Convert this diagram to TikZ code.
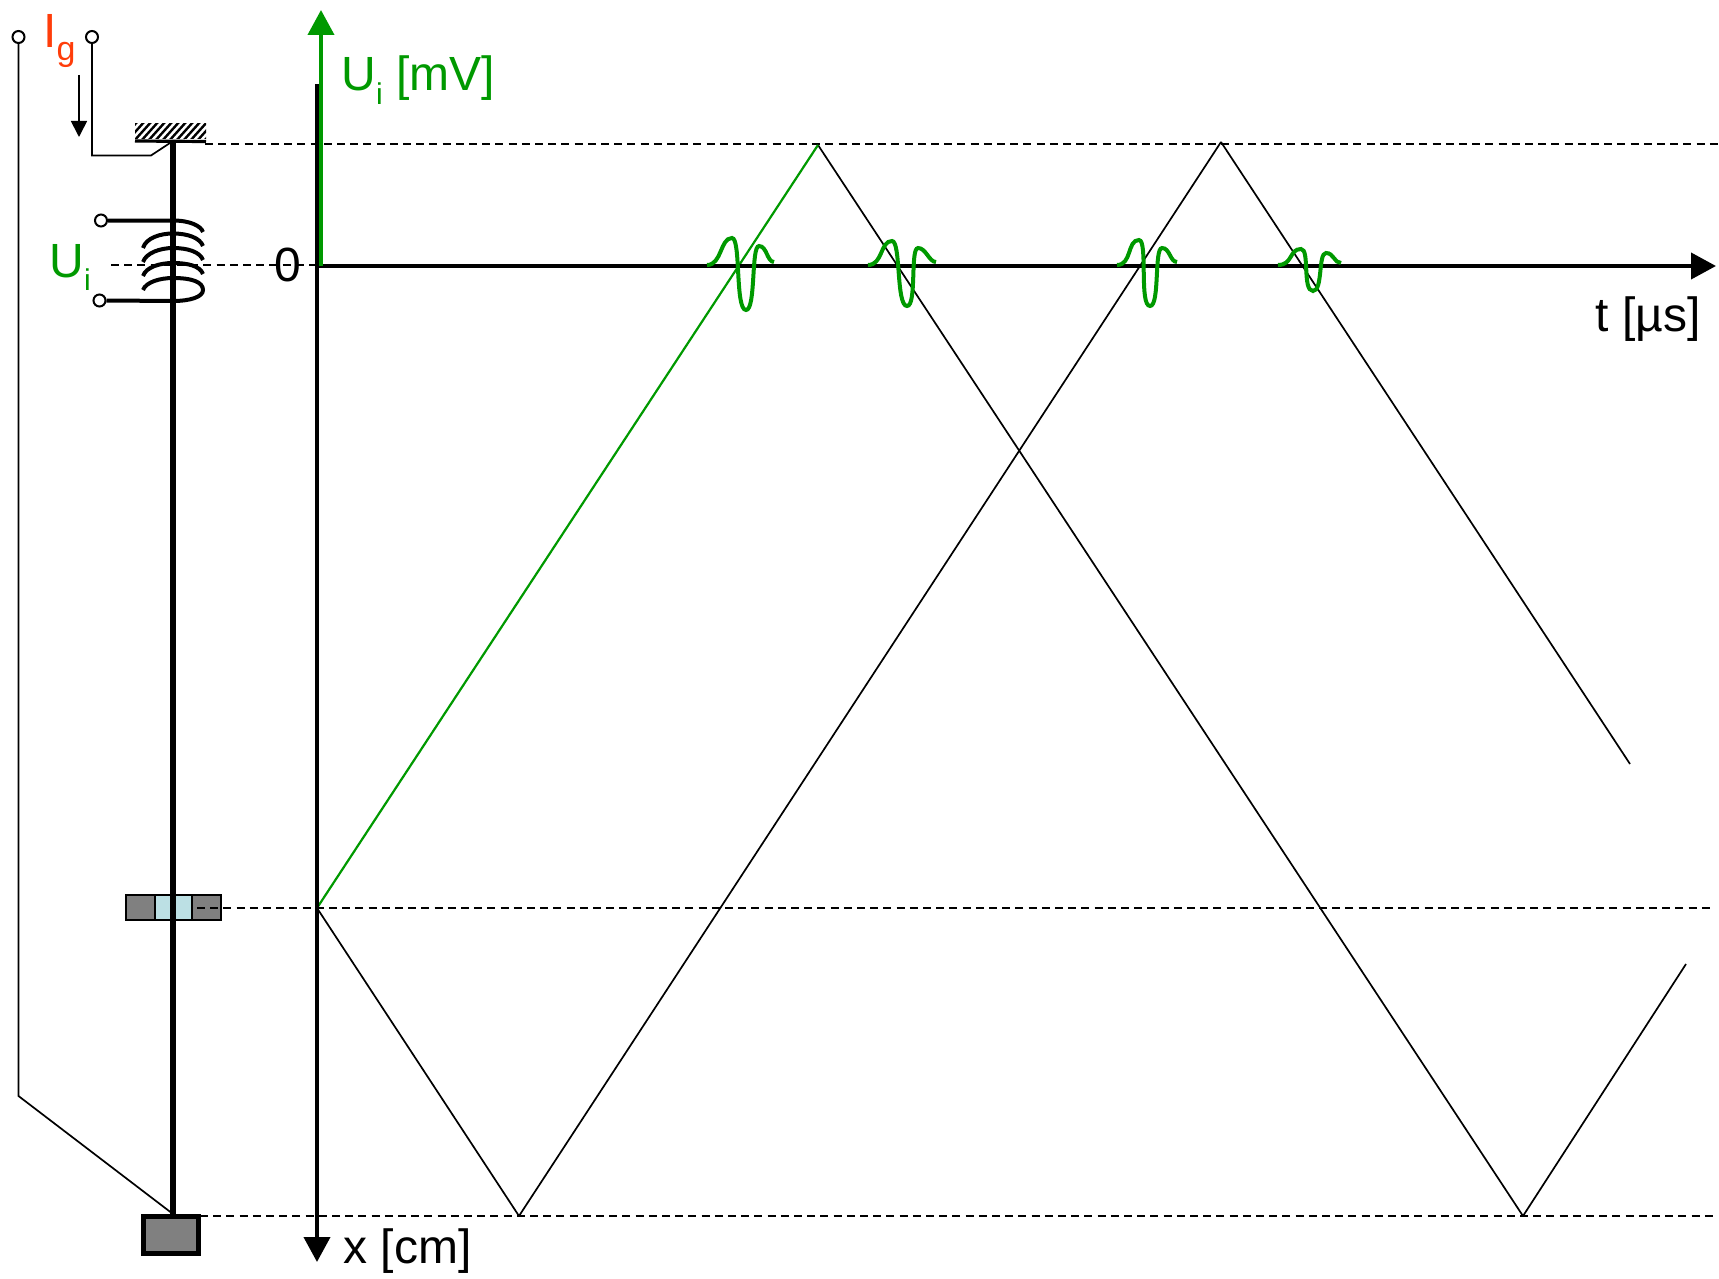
\documentclass[tikz,border=0pt]{standalone}
\usepackage{xcolor}
\usepackage{fontspec}
\setmainfont{Liberation Sans}
\usepackage{tikz}
\usetikzlibrary{arrows.meta, positioning}

\definecolor{sigGreen}{HTML}{009900}
\definecolor{curRed}{HTML}{FF3D0A}
\definecolor{magGray}{HTML}{808080}
\definecolor{windowBlue}{HTML}{BCE0E4}

\newcommand{\subtxt}[2][15]{{\fontsize{#1}{#1}\selectfont\raisebox{-6.5pt}{#2}}}

\begin{document}
\begin{tikzpicture}[
        x=0.5pt, y=-0.5pt,
        every node/.style={align=center},
        lbl/.style={anchor=base west, inner sep=0pt, font=\fontsize{24}{24}\selectfont},
        term/.style={circle, draw=black, fill=white, line width=1pt, minimum size=6pt, inner sep=0pt},
        wire/.style={black, line width=0.85pt, line join=miter},
        coil/.style={black, line width=2pt},
        guide/.style={black, line width=0.75pt, dash pattern=on 4pt off 2.6pt},
        ramp/.style={black, line width=0.85pt},
        axisline/.style={black, line width=2pt},
        pulse/.style={sigGreen, line width=2pt},
        tipbig/.style={-{Triangle[length=12.5pt, width=13pt]}},
        block/.style={rectangle, draw=black, line width=1pt, inner sep=0pt, minimum height=12.5pt},
    ]
    \useasboundingbox (0,0) rectangle (1719,1279);

    % points of the mechanism
    \coordinate (rodtop)  at (173,141);
    \coordinate (rodbot)  at (173,1214);
    \coordinate (kneeL)   at (18.5,1096);
    \coordinate (kneeR)   at (92,155.5);
    \coordinate (kneeR2)  at (151,155.5);

    % dashed levels
    \draw [guide] (205,144)  -- (1719,144);
    \draw [guide] (111,265)  -- (317,265);
    \draw [guide] (200,1216) -- (1715,1216);

    % fixed end with hatching
    \begin{scope}
        \clip (135,124) rectangle (206,139);
        \foreach \hx in {120,127,...,220} {
            \draw [line width=1.2pt] (\hx,141) -- (\hx+18,121);
        }
    \end{scope}
    \draw [line width=1.6pt] (135,141) -- (206,141.5);

    % rod and mass
    \node (mass)  [block, fill=magGray, line width=2.4pt, minimum width=27.5pt, minimum height=18.5pt] at (171,1235) {};
    \node (blockL) [block, fill=magGray, minimum width=14.5pt] at (140.5,907) {};
    \node (blockM) [block, fill=windowBlue, minimum width=18.5pt] at (173.5,907) {};
    \node (blockR) [block, fill=magGray, minimum width=14.5pt] at (206.5,907) {};
    \draw [line width=3pt] (rodtop) -- (rodbot);
    \draw [guide] (197,908) -- (1712,908);

    % terminals and leads
    \node (termA) [term] at (18.5,37) {};
    \node (termB) [term] at (92,37) {};
    \draw [wire] (termA.south) -- (kneeL) -- (rodbot);
    \draw [wire] (termB.south) -- (kneeR) -- (kneeR2) -- (rodtop);
    \draw [black, line width=0.85pt, -{Triangle[length=8pt, width=8pt]}] (79,75) -- (79,137);

    % coil
    \node (termC) [term] at (101,220.5) {};
    \node (termD) [term] at (99.5,300.5) {};
    \draw [coil] (termC.east) -- (173,220.5) .. controls (190,220.5) and (201,226) .. (203,232);
    \draw [coil] (143,248) .. controls (146,238) and (160,233.5) .. (173,233.5) .. controls (188,233.5) and (200,238) .. (203,246);
    \draw [coil] (143,262) .. controls (146,253) and (160,248) .. (173,248) .. controls (188,248) and (200,252) .. (203,260);
    \draw [coil] (143,276) .. controls (146,267) and (160,263) .. (173,263) .. controls (188,263) and (200,266) .. (203,274);
    \draw [coil] (143,290) .. controls (146,282) and (160,278) .. (173,278) .. controls (192,278) and (203,282) .. (203,290) .. controls (203,297) and (190,301) .. (173,301) -- (termD.east);

    % ramps
    \coordinate (start) at (317,908);
    \draw [ramp, line join=bevel] (start) -- (519,1216) -- (1221,142) -- (1630,764);
    \draw [ramp, line join=bevel] (818,145) -- (1523,1216) -- (1686,964);
    \draw [sigGreen, line width=1.1pt] (start) -- (818,145);

    % axes
    \draw [axisline, tipbig] (317,84) -- (317,1262);
    \draw [axisline, tipbig] (317,266) -- (1716,266);
    \draw [sigGreen, line width=2pt, tipbig] (321,266) -- (321,10);

    % pulses on the time axis
    \foreach \xa/\xb/\yb/\xc/\yc/\xd/\yd/\xe/\ye in {
        707/732/238/746/310/759/246/774/262,
        868/892/241/907/306/918/248/936/262,
        1117/1139/240/1150/306/1162/248/1177/262,
        1278/1301/249/1313/291/1326/253/1341/263} {
        \draw [pulse] (\xa,265) .. controls (\xa+15,265) and (\xb-12,\yb) .. (\xb,\yb)
            .. controls (\xb+9,\yb) and (\xc-11,\yc) .. (\xc,\yc)
            .. controls (\xc+10,\yc) and (\xd-8,\yd) .. (\xd,\yd)
            .. controls (\xd+8,\yd) and (\xe-7,\ye) .. (\xe,\ye);
    }

    % labels
    \node (labIg)  [lbl, text=curRed] at (43,48) {I\subtxt[17]{g}};
    \node (labUi)  [lbl, text=sigGreen] at (49,277) {U\subtxt{i}};
    \node (labUm)  [lbl, text=sigGreen] at (341,91) {U\subtxt{i} [mV]};
    \node (labNull) [lbl] at (274,281) {0};
    \node (labT)   [lbl, anchor=base east] at (1701,331) {t [µs]};
    \node (labX)   [lbl] at (343,1263) {x [cm]};
\end{tikzpicture}
\end{document}
